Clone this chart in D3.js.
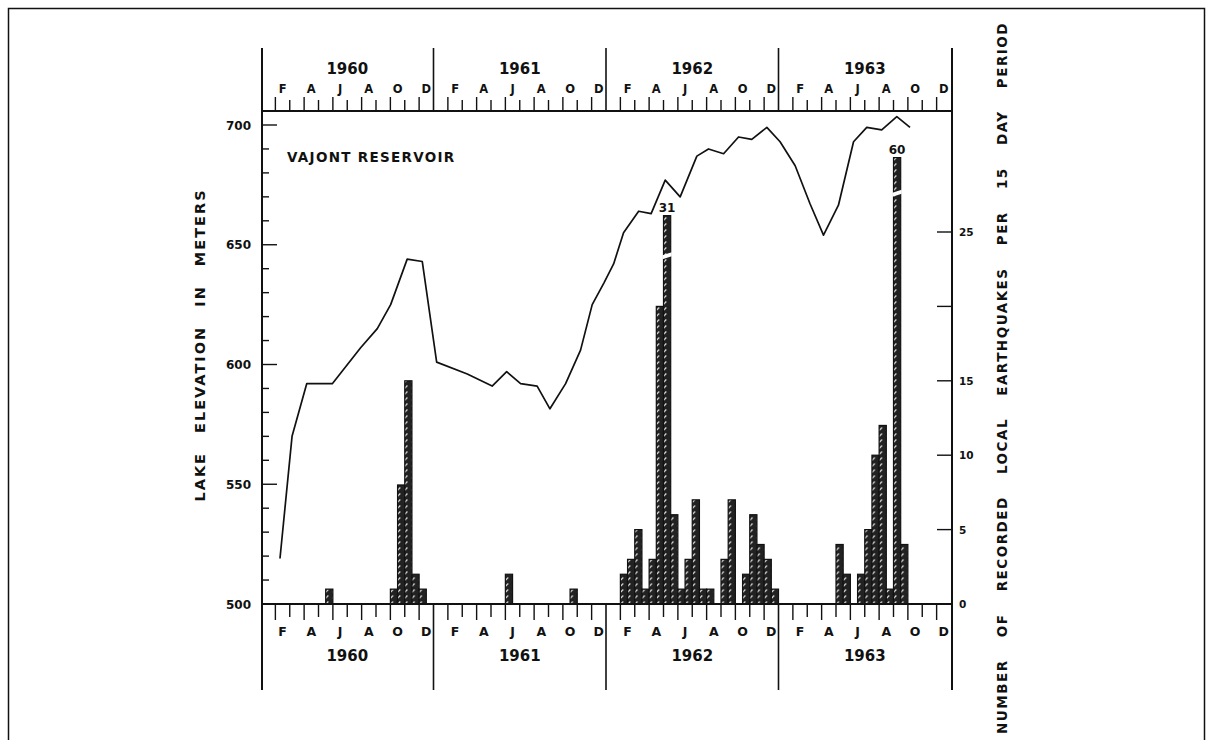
<!DOCTYPE html>
<html>
<head>
<meta charset="utf-8">
<script src="https://cdn.jsdelivr.net/npm/d3@7"></script>
<style>
  body { margin: 0; background: #fff; }
  svg { display: block; }
  text { font-family: "DejaVu Sans", sans-serif; font-weight: bold; fill: #111; }
</style>
</head>
<body>
<svg id="chart" width="1211" height="740"></svg>
<script>
// ---------------- DATA ----------------
const years = [1960, 1961, 1962, 1963];
const monthLetters = ["", "F", "", "A", "", "J", "", "A", "", "O", "", "D"];
const elevTicks = [500, 550, 600, 650, 700];
const countTicks = [0, 5, 10, 15, 20, 25];
const countTickLabels = ["0", "5", "10", "15", "", "25"];

// earthquakes per 15-day period (24 half-months per year)
const quakes1960 = [0,0,0,0,0,0,0,0,0,1, 0,0,0,0,0,0,0,0,1,8, 15,2,1,0];
const quakes1961 = [0,0,0,0,0,0,0,0,0,0, 2,0,0,0,0,0,0,0,0,1, 0,0,0,0];
const quakes1962 = [0,0,2,3,5,1,3,20,31,6, 1,3,7,1,1,0,3,7,0,2, 6,4,3,1];
const quakes1963 = [0,0,0,0,0,0,0,0,4,2, 0,2,5,10,12,1,60,4,0,0, 0,0,0,0];

// lake elevation: time in months since 1 Jan 1960, elevation in metres
const lakeMonths = [1.32, 2.16, 3.18, 4.96, 6.93, 8.09, 9.02, 10.17, 11.22, 12.22,
  14.35, 16.08, 17.09, 18.06, 19.21, 20.1, 21.19, 22.23, 23.04, 23.85,
  24.53, 25.22, 26.27, 27.14, 28.12, 29.16, 30.32, 31.13, 32.18, 33.22,
  34.14, 35.19, 36.11, 37.16, 38.2, 39.13, 40.17, 41.22, 42.14, 43.18,
  44.23, 45.15];
const lakeElev = [519, 570, 592, 592, 607, 615, 625, 644, 643, 601,
  596, 591, 597, 592, 591, 581.5, 592, 606, 625, 634,
  642, 655, 664, 663, 677, 670, 687, 690, 688, 695,
  694, 699, 693, 683, 667, 654, 666.5, 693, 699, 698,
  703.5, 699];

// off-scale bars are drawn cut short with a break
const brokenShownAs = [26.1, 30.0];   // displayed height (count units) of the two off-scale bars
const brokenGapAt = [23.5, 27.7];

// ---------------- LAYOUT ----------------
const svg = d3.select("#chart");
const x = d3.scaleLinear().domain([0, 48]).range([261, 951]);
const yE = d3.scaleLinear().domain([500, 700]).range([604, 125]);
const yC = d3.scaleLinear().domain([0, 25]).range([604, 232]);
const topY = 111, botY = 604, frameTop = 48, frameBot = 690;

// outer frame
svg.append("rect").attr("x", 8.5).attr("y", 8.5).attr("width", 1196).attr("height", 760)
  .attr("fill", "none").attr("stroke", "#111").attr("stroke-width", 1.5);

// hatch pattern
const defs = svg.append("defs");
const pat = defs.append("pattern").attr("id", "hatch").attr("patternUnits", "userSpaceOnUse")
  .attr("width", 7.19).attr("height", 6);
pat.append("rect").attr("width", 7.19).attr("height", 6).attr("fill", "#222");
pat.append("line").attr("x1", 2).attr("y1", 4.5).attr("x2", 4.8).attr("y2", 1.5)
  .attr("stroke", "#ddd").attr("stroke-width", 1.1);

const g = svg.append("g");

// ---------------- BARS ----------------
const allQuakes = [quakes1960, quakes1961, quakes1962, quakes1963];
const bars = [];
allQuakes.forEach((arr, yi) => arr.forEach((v, h) => {
  if (v > 0) bars.push({ t: yi * 12 + h / 2, v });
}));
const halfW = x(0.5) - x(0);
let bi = 0;
bars.forEach(b => {
  const broken = b.v > 25;
  const shown = broken ? brokenShownAs[bi] : b.v;
  const x0 = x(b.t), y0 = yC(shown);
  g.append("rect").attr("x", x0).attr("y", y0).attr("width", halfW).attr("height", yC(0) - y0)
    .attr("fill", "url(#hatch)").attr("stroke", "#111").attr("stroke-width", 1.2);
  if (broken) {
    const gy = yC(brokenGapAt[bi]);
    g.append("path").attr("d", `M${x0 - 1},${gy + 1} L${x0 + halfW + 1},${gy - 2} L${x0 + halfW + 1},${gy + 2} L${x0 - 1},${gy + 5} Z`)
      .attr("fill", "#fff");
    g.append("text").attr("x", x0 + halfW / 2).attr("y", y0 - 4).attr("text-anchor", "middle")
      .attr("font-size", 12).text(b.v);
    bi++;
  }
});

// ---------------- LAKE LINE ----------------
const lake = lakeMonths.map((m, i) => [m, lakeElev[i]]);
g.append("path").datum(lake)
  .attr("d", d3.line().x(d => x(d[0])).y(d => yE(d[1])))
  .attr("fill", "none").attr("stroke", "#111").attr("stroke-width", 1.7).attr("stroke-linejoin", "round");

// ---------------- AXES ----------------
const ax = svg.append("g").attr("stroke", "#111");
// vertical frame lines
ax.append("line").attr("x1", x(0) + 1).attr("x2", x(0) + 1).attr("y1", frameTop).attr("y2", frameBot).attr("stroke-width", 2);
ax.append("line").attr("x1", x(48) + 1).attr("x2", x(48) + 1).attr("y1", frameTop).attr("y2", frameBot).attr("stroke-width", 2);
// horizontal axis lines
ax.append("line").attr("x1", x(0)).attr("x2", x(48) + 1).attr("y1", topY).attr("y2", topY).attr("stroke-width", 1.8);
ax.append("line").attr("x1", x(0)).attr("x2", x(48) + 1).attr("y1", botY).attr("y2", botY).attr("stroke-width", 1.8);

// month ticks and year dividers
d3.range(1, 48).forEach(m => {
  const xx = x(m);
  if (m % 12 === 0) {
    ax.append("line").attr("x1", xx).attr("x2", xx).attr("y1", frameTop).attr("y2", topY).attr("stroke-width", 1.6);
    ax.append("line").attr("x1", xx).attr("x2", xx).attr("y1", botY).attr("y2", frameBot).attr("stroke-width", 1.6);
  } else {
    const len = m % 2 === 1 ? 14 : 11;
    ax.append("line").attr("x1", xx).attr("x2", xx).attr("y1", topY).attr("y2", topY - len).attr("stroke-width", 1.4);
    ax.append("line").attr("x1", xx).attr("x2", xx).attr("y1", botY).attr("y2", botY + len + 2).attr("stroke-width", 1.4);
  }
});

// month letters + years
years.forEach((yr, yi) => {
  monthLetters.forEach((L, mi) => {
    if (!L) return;
    const cx = x(yi * 12 + mi + 0.5);
    svg.append("text").attr("x", cx).attr("y", 93).attr("text-anchor", "middle").attr("font-size", 11.5).text(L);
    svg.append("text").attr("x", cx).attr("y", 636).attr("text-anchor", "middle").attr("font-size", 12.5).text(L);
  });
  const cy = x(yi * 12 + 6);
  svg.append("text").attr("x", cy).attr("y", 74).attr("text-anchor", "middle").attr("font-size", 15).text(yr);
  svg.append("text").attr("x", cy).attr("y", 661).attr("text-anchor", "middle").attr("font-size", 15).text(yr);
});

// left elevation axis
d3.range(510, 701, 10).forEach(v => {
  const major = v % 50 === 0;
  ax.append("line").attr("x1", x(0) + 1).attr("x2", x(0) + (major ? 16 : 8))
    .attr("y1", yE(v)).attr("y2", yE(v)).attr("stroke-width", 1.4);
});
elevTicks.forEach(v => {
  svg.append("text").attr("x", 251).attr("y", yE(v) + 4.5).attr("text-anchor", "end")
    .attr("font-size", 12).text(v);
});

// right count axis
countTicks.forEach((v, i) => {
  if (v > 0) ax.append("line").attr("x1", x(48) + 1).attr("x2", x(48) - 14)
    .attr("y1", yC(v)).attr("y2", yC(v)).attr("stroke-width", 1.4);
  svg.append("text").attr("x", 959).attr("y", yC(v) + 4).attr("font-size", 10.5).text(countTickLabels[i]);
});

// titles
svg.append("text").attr("transform", "translate(205,345) rotate(-90)").attr("text-anchor", "middle")
  .attr("font-size", 14.5).attr("letter-spacing", 2).attr("word-spacing", 12)
  .text("LAKE ELEVATION IN METERS");
svg.append("text").attr("transform", "translate(1007,378) rotate(-90)").attr("text-anchor", "middle")
  .attr("font-size", 13.5).attr("letter-spacing", 1.5).attr("word-spacing", 16)
  .text("NUMBER OF RECORDED LOCAL EARTHQUAKES PER 15 DAY PERIOD");
svg.append("text").attr("x", 287).attr("y", 162).attr("font-size", 13.5).attr("letter-spacing", 1.3)
  .text("VAJONT RESERVOIR");
</script>
</body>
</html>
